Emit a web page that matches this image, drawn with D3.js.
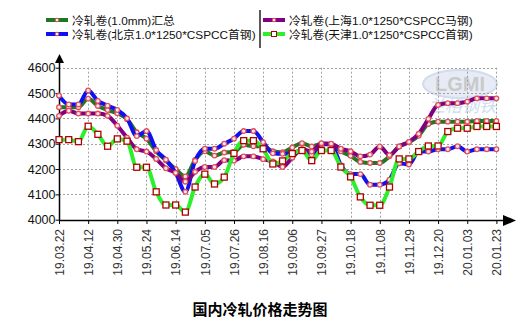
<!DOCTYPE html>
<html><head><meta charset="utf-8">
<script src="https://cdn.jsdelivr.net/npm/d3@7"></script>
<style>
html,body{margin:0;padding:0;background:#fff;}
svg{display:block;}
text{font-family:"Liberation Sans","Noto Sans CJK SC",sans-serif;}
</style></head>
<body>
<svg id="chart" width="524" height="329"></svg>
<script>
const tickLabels = ["19.03.22","19.04.12","19.04.30","19.05.24","19.06.14","19.07.05","19.07.26","19.08.16","19.09.06","19.09.27","19.10.18","19.11.08","19.11.29","19.12.20","20.01.03","20.01.23"];
const yTicks = [4000,4100,4200,4300,4400,4500,4600];
const seriesNames = ["冷轧卷(1.0mm)汇总","冷轧卷(北京1.0*1250*CSPCC首钢)","冷轧卷(上海1.0*1250*CSPCC马钢)","冷轧卷(天津1.0*1250*CSPCC首钢)"];
const totalValues = [4444,4444,4444,4478,4449,4433,4420,4397,4345,4320,4270,4234,4200,4171,4236,4270,4253,4265,4267,4296,4290,4290,4270,4266,4285,4302,4289,4299,4299,4270,4252,4228,4224,4224,4250,4289,4306,4331,4378,4387,4387,4387,4387,4390,4390,4390];
const beijingValues = [4490,4455,4455,4510,4469,4450,4433,4400,4330,4350,4275,4237,4185,4110,4232,4280,4280,4300,4320,4350,4350,4306,4262,4260,4260,4278,4256,4298,4298,4215,4180,4180,4138,4138,4158,4223,4218,4269,4269,4278,4278,4290,4269,4278,4278,4278];
const shanghaiValues = [4410,4430,4419,4419,4419,4410,4371,4324,4278,4269,4240,4203,4185,4150,4189,4208,4208,4235,4233,4250,4250,4239,4230,4208,4245,4278,4269,4302,4300,4280,4270,4250,4257,4289,4255,4289,4307,4339,4398,4453,4460,4460,4466,4479,4479,4479];
const tianjinValues = [4316,4316,4308,4369,4337,4290,4319,4310,4207,4207,4110,4058,4058,4030,4129,4180,4141,4168,4262,4312,4312,4280,4220,4232,4261,4273,4233,4273,4273,4208,4169,4090,4057,4057,4129,4240,4240,4269,4291,4291,4348,4361,4361,4368,4368,4368];
const seriesColors = ["#1e781e","#1010f0","#800080","#2cf02c"];
const title = "国内冷轧价格走势图";

const svg = d3.select("#chart");
const n = totalValues.length;
const x = d3.scaleLinear().domain([0, n-1]).range([59, 496.4]);
const y = d3.scaleLinear().domain([4000, 4600]).range([219.7, 67.7]);

// watermark
const wm = svg.append("g").attr("opacity",0.45);
wm.append("ellipse").attr("cx",460).attr("cy",84).attr("rx",37).attr("ry",14).attr("fill","#c8d4ec").attr("stroke","#9fb2d8").attr("stroke-width",2);
wm.append("text").attr("x",460).attr("y",91).attr("text-anchor","middle").attr("font-size",20).attr("font-weight","bold").attr("fill","#8a8a8a").text("LGMI");
wm.append("text").attr("x",462).attr("y",112).attr("text-anchor","middle").attr("font-size",17).attr("font-style","italic").attr("fill","#90b4e0").text("兰格钢铁");

// grid
const grid = svg.append("g").attr("stroke","#a0a0a0").attr("stroke-width",1).attr("stroke-dasharray","2,2");
yTicks.filter(v=>v>4000).forEach(v=>{
  grid.append("line").attr("x1",59).attr("x2",497).attr("y1",Math.round(y(v))+0.5).attr("y2",Math.round(y(v))+0.5);
});
tickLabels.forEach((t,i)=>{
  if(i===0) return;
  const xx = Math.round(x(i*3))+0.5;
  grid.append("line").attr("x1",xx).attr("x2",xx).attr("y1",y(4600)).attr("y2",y(4000));
});

// axes
const yAxis = d3.axisLeft(y).tickValues(yTicks).tickSize(4).tickFormat(d3.format("d"));
const gy = svg.append("g").attr("transform","translate(59.5,0)").call(yAxis);
gy.select(".domain").remove();
gy.selectAll("text").attr("font-size",12.5).attr("fill","#111").attr("x",-4);
gy.selectAll("line").attr("stroke","#000");

const xAxis = d3.axisBottom(x).tickValues(d3.range(0,n,3)).tickSize(4).tickFormat((d)=>tickLabels[d/3]);
const gx = svg.append("g").attr("transform","translate(0,220)").call(xAxis);
gx.select(".domain").remove();
gx.selectAll("line").attr("stroke","#000");
gx.selectAll("text").attr("font-size",12).attr("fill","#333")
  .attr("transform","rotate(-90)").attr("text-anchor","end")
  .attr("x",-9).attr("y",0).attr("dy","0.36em");

svg.append("line").attr("x1",59.5).attr("x2",59.5).attr("y1",60).attr("y2",220.5).attr("stroke","#000").attr("stroke-width",1.5);
svg.append("line").attr("x1",59).attr("x2",506).attr("y1",220.5).attr("y2",220.5).attr("stroke","#000").attr("stroke-width",1.5);
svg.append("path").attr("d","M59.5,54 L55,63 L64,63 Z").attr("fill","#000");
svg.append("path").attr("d","M516,220.5 L503,215 L503,226 Z").attr("fill","#000");

// lines
const allSeries = [totalValues, beijingValues, shanghaiValues, tianjinValues];
const line = d3.line().x((d,i)=>x(i)).y(d=>y(d)).curve(d3.curveMonotoneX);
allSeries.forEach((vals,s)=>{
  svg.append("path").datum(vals).attr("d",line).attr("fill","none")
    .attr("stroke",seriesColors[s]).attr("stroke-width",4).attr("stroke-linejoin","round");
  const g = svg.append("g");
  if(s<3){
    g.selectAll("circle").data(vals).join("circle")
      .attr("cx",(d,i)=>x(i)).attr("cy",d=>y(d)).attr("r",2.3)
      .attr("fill","#fde8ea").attr("stroke","#e0505e").attr("stroke-width",1.3);
  } else {
    g.selectAll("rect").data(vals).join("rect")
      .attr("x",(d,i)=>x(i)-3).attr("y",d=>y(d)-3).attr("width",6).attr("height",6)
      .attr("fill","#fff").attr("stroke","#b00000").attr("stroke-width",1.3);
  }
});

// legend
const legPos = [[46,20],[46,34],[263,20],[263,34]];
seriesNames.forEach((name,s)=>{
  const [lx,ly] = legPos[s];
  svg.append("line").attr("x1",lx).attr("x2",lx+22).attr("y1",ly).attr("y2",ly)
    .attr("stroke",seriesColors[s]).attr("stroke-width",4);
  if(s<3){
    svg.append("circle").attr("cx",lx+11).attr("cy",ly).attr("r",1.8).attr("fill","#fde8ea").attr("stroke","#e0505e").attr("stroke-width",1);
  } else {
    svg.append("rect").attr("x",lx+8.5).attr("y",ly-2.5).attr("width",5).attr("height",5).attr("fill","#fff").attr("stroke","#b00000").attr("stroke-width",1);
  }
  svg.append("text").attr("x",lx+26).attr("y",ly+4.5).attr("font-size",11.8).attr("fill","#111").text(name);
});
svg.append("line").attr("x1",260).attr("x2",260).attr("y1",10).attr("y2",48).attr("stroke","#222").attr("stroke-width",1.5);

svg.append("text").attr("x",260).attr("y",315).attr("text-anchor","middle")
  .attr("font-size",15).attr("font-weight","bold").attr("fill","#000")
  .attr("font-family","'Noto Sans CJK SC',sans-serif").text(title);
</script>
</body></html>
